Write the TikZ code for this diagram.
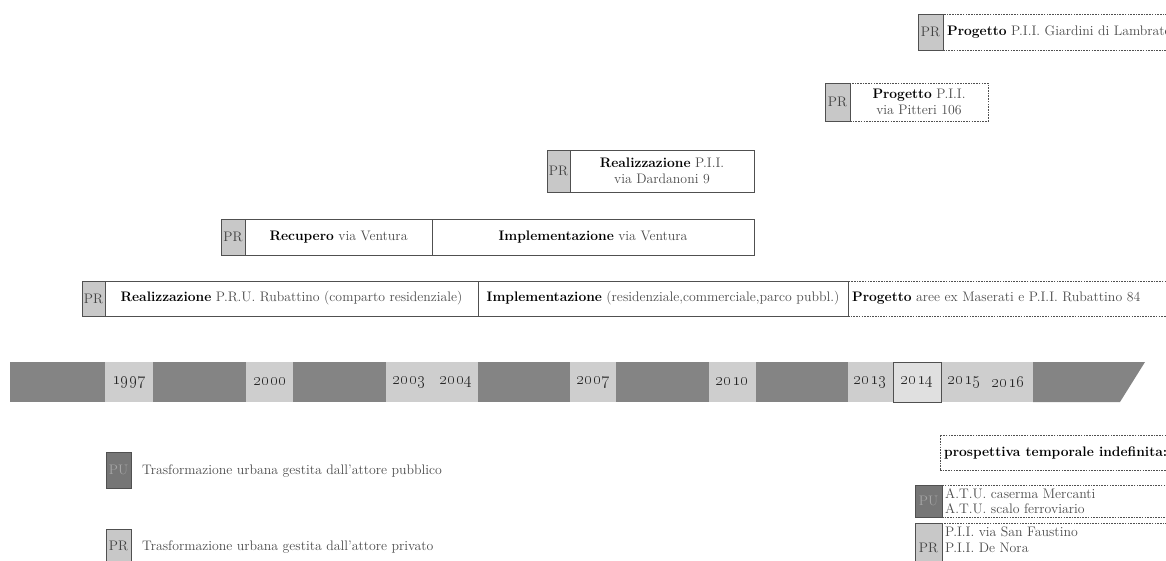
\documentclass[tikz,border=0pt]{standalone}
\usepackage{tikz}
\definecolor{dk}{RGB}{132,132,132}
\definecolor{lt}{RGB}{206,206,206}
\definecolor{prf}{RGB}{200,200,200}
\definecolor{puf}{RGB}{118,118,118}
\definecolor{ln}{RGB}{80,80,80}
\definecolor{tx}{RGB}{75,75,75}
\tikzset{
  x=1pt, y=-1pt,
  every node/.style={font=\fontsize{13.8}{15.5}\selectfont, inner sep=0pt, text=tx},
  prsq/.style={draw=ln, fill=prf, line width=0.8pt, text=black!75},
  pusq/.style={draw=ln, fill=puf, line width=0.8pt, text=black!35},
  solidbox/.style={draw=ln, line width=0.8pt, align=center},
  dashbox/.style={draw=ln, line width=0.7pt, dash pattern=on 1.6pt off 1.1pt},
  lbl/.style={anchor=west, align=left},
  yr/.style={font=\fontsize{16}{18}\selectfont, text=black!85},
}
\newcommand{\bo}[1]{\textbf{\textcolor{black}{#1}}}
\begin{document}
\begin{tikzpicture}
\useasboundingbox (0,0) rectangle (1166,560);
\clip (0,0) rectangle (1166,560);
% ---------- row: Giardini di Lambrate ----------
\node[dashbox, minimum width=260, minimum height=36] (g6) at (1073,32) {};
\node[prsq, minimum width=25, minimum height=36] (pr6) at (930.5,32) {PR};
\node[lbl] (t6) at (947,32) {\bo{Progetto} P.I.I. Giardini di Lambrate};
% ---------- row: via Pitteri ----------
\node[dashbox, minimum width=138, minimum height=38, align=center] (b5) at (919,102) {\bo{Progetto} P.I.I.\\via Pitteri 106};
\node[prsq, minimum width=25, minimum height=38] (pr5) at (837.5,102) {PR};
% ---------- row: via Dardanoni ----------
\node[solidbox, minimum width=184, minimum height=42] (b4) at (662,171) {\bo{Realizzazione} P.I.I.\\via Dardanoni 9};
\node[prsq, minimum width=23, minimum height=42] (pr4) at (558.5,171) {PR};
% ---------- row: via Ventura ----------
\node[solidbox, minimum width=187, minimum height=36] (b3a) at (338.5,237) {\bo{Recupero} via Ventura};
\node[solidbox, minimum width=322, minimum height=36] (b3b) at (593,237) {\bo{Implementazione} via Ventura};
\node[prsq, minimum width=24, minimum height=36] (pr3) at (233,237) {PR};
% ---------- row: Rubattino ----------
\node[solidbox, minimum width=373, minimum height=35] (b2a) at (291.5,298.5) {\bo{Realizzazione} P.R.U. Rubattino (comparto residenziale)};
\node[solidbox, minimum width=370, minimum height=35] (b2b) at (663,298.5) {\bo{Implementazione} (residenziale,commerciale,parco pubbl.)};
\node[dashbox, minimum width=340, minimum height=35] (b2c) at (1018,298.5) {};
\node[prsq, minimum width=23, minimum height=35] (pr2) at (93.5,298.5) {PR};
\node[lbl] (t2c) at (852,298.5) {\bo{Progetto} aree ex Maserati e P.I.I. Rubattino 84};
% ---------- timeline ----------
\fill[dk] (10,362) rectangle (105,402);
\fill[lt] (105,362) rectangle (153,402);
\fill[dk] (153,362) rectangle (246,402);
\fill[lt] (246,362) rectangle (293,402);
\fill[dk] (293,362) rectangle (386,402);
\fill[lt] (386,362) rectangle (478,402);
\fill[dk] (478,362) rectangle (570,402);
\fill[lt] (570,362) rectangle (616,402);
\fill[dk] (616,362) rectangle (709,402);
\fill[lt] (709,362) rectangle (756,402);
\fill[dk] (756,362) rectangle (848,402);
\fill[lt] (848,362) rectangle (1033,402);
\fill[dk] (1033,362) -- (1145,362) -- (1120,402) -- (1033,402) -- cycle;
\node[draw=ln, fill=black!12, line width=0.6pt, minimum width=48, minimum height=40] (box14) at (917,382) {};
\node[yr] (y1997) at (129,382) {\oldstylenums{1997}};
\node[yr] (y2000) at (270,382) {\oldstylenums{2000}};
\node[yr] (y2003) at (409,382) {\oldstylenums{2003}};
\node[yr] (y2004) at (456,382) {\oldstylenums{2004}};
\node[yr] (y2007) at (593,382) {\oldstylenums{2007}};
\node[yr] (y2010) at (732,382) {\oldstylenums{2010}};
\node[yr] (y2013) at (870,382) {\oldstylenums{2013}};
\node[yr] (y2014) at (917,382) {\oldstylenums{2014}};
\node[yr] (y2015) at (964,382) {\oldstylenums{2015}};
\node[yr] (y2016) at (1008,382) {\oldstylenums{2016}};
% ---------- legend ----------
\node[pusq, minimum width=25, minimum height=36] (lpu) at (118.5,470) {PU};
\node[lbl] (lput) at (142,471) {Trasformazione urbana gestita dall'attore pubblico};
\node[prsq, minimum width=25, minimum height=34] (lpr) at (118.5,546) {PR};
\node[lbl] (lprt) at (142,547) {Trasformazione urbana gestita dall'attore privato};
% ---------- indefinite perspective ----------
\node[dashbox, minimum width=240, minimum height=35] (pt) at (1060,452.5) {};
\node[lbl] (ptt) at (944,453) {\bo{prospettiva temporale indefinita:}};
\node[dashbox, minimum width=240, minimum height=32] (pub) at (1062,501) {};
\node[pusq, minimum width=27, minimum height=32] (ppu) at (928.5,501) {PU};
\node[lbl] (pubt) at (945,501) {A.T.U. caserma Mercanti\\A.T.U. scalo ferroviario};
\node[dashbox, minimum width=240, minimum height=50] (prv) at (1062,548) {};
\node[prsq, minimum width=27, minimum height=50] (ppr) at (928.5,548) {PR};
\node[anchor=north west, align=left] (prvt) at (945,527) {P.I.I. via San Faustino\\P.I.I. De Nora};
\end{tikzpicture}
\end{document}
